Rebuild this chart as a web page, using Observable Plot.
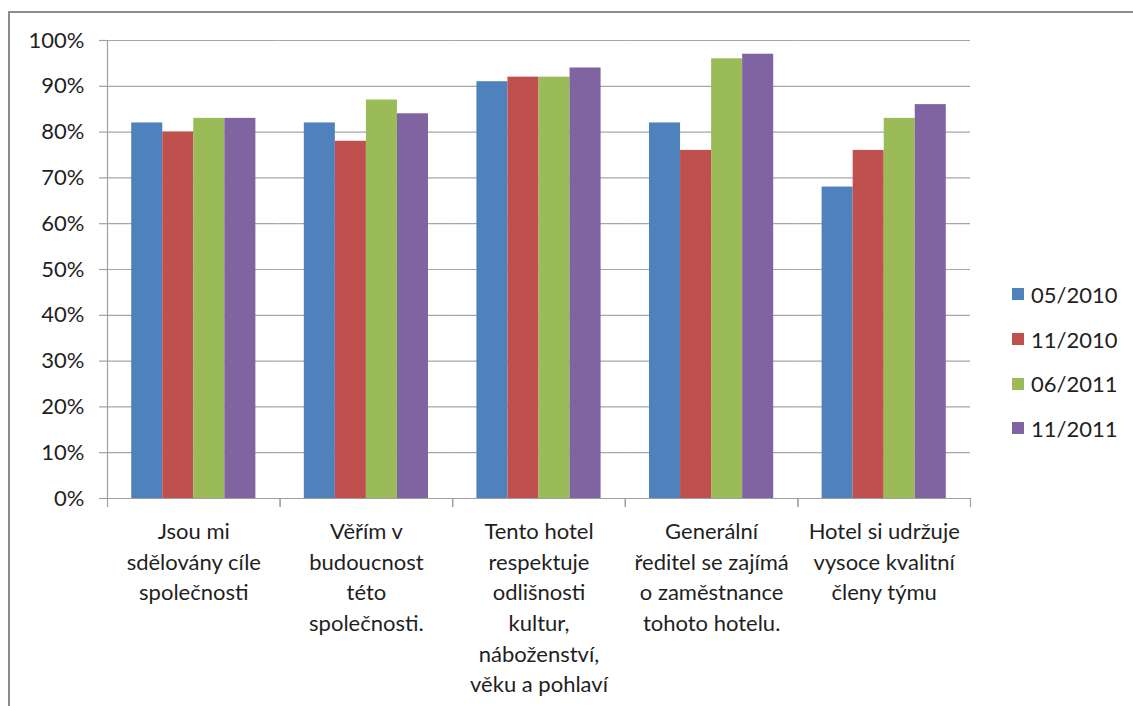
<!DOCTYPE html>
<html>
<head>
<meta charset="utf-8">
<script src="https://cdn.jsdelivr.net/npm/d3@7"></script>
<script src="https://cdn.jsdelivr.net/npm/@observablehq/plot@0.6"></script>
<style>
  html, body { margin: 0; padding: 0; background: #fff; }
  #wrap { position: relative; width: 1133px; height: 706px; overflow: hidden; font-family: Lato, "Open Sans", sans-serif; }
  #border { position: absolute; left: 8px; top: 11px; right: -10px; bottom: -10px; border-top: 2px solid #8c8c8c; border-left: 2px solid #8c8c8c; }
  #chart { position: absolute; left: 0; top: 0; }
  #legend { position: absolute; left: 1012px; top: 272px; font-size: 22px; color: #1f1f1f; }
  #legend .row { display: flex; align-items: center; height: 44.7px; }
  #legend .sw { width: 12px; height: 12px; margin-right: 7px; }
</style>
</head>
<body>
<div id="wrap">
  <div id="border"></div>
  <div id="chart"></div>
  <div id="legend"></div>
</div>
<script>
const categories = [
  "Jsou mi\nsdělovány cíle\nspolečnosti",
  "Věřím v\nbudoucnost\ntéto\nspolečnosti.",
  "Tento hotel\nrespektuje\nodlišnosti\nkultur,\nnáboženství,\nvěku a pohlaví",
  "Generální\nředitel se zajímá\no zaměstnance\ntohoto hotelu.",
  "Hotel si udržuje\nvysoce kvalitní\nčleny týmu"
];
const series = ["05/2010", "11/2010", "06/2011", "11/2011"];
const colors = ["#4F81BD", "#C0504D", "#9BBB59", "#8064A2"];
const v0510 = [0.82, 0.82, 0.91, 0.82, 0.68];
const v1110 = [0.80, 0.78, 0.92, 0.76, 0.76];
const v0611 = [0.83, 0.87, 0.92, 0.96, 0.83];
const v1111 = [0.83, 0.84, 0.94, 0.97, 0.86];
const yTicks = [0, 0.1, 0.2, 0.3, 0.4, 0.5, 0.6, 0.7, 0.8, 0.9, 1.0];

const valuesBySeries = [v0510, v1110, v0611, v1111];
const rows = [];
categories.forEach((c, i) => {
  series.forEach((s, j) => rows.push({category: c, series: s, value: valuesBySeries[j][i]}));
});

const axisColor = "#a0a0a0";
const W = 1133, H = 706, mL = 107, mR = 163, mT = 40, mB = 208;
const plotH = H - mT - mB;

const chart = Plot.plot({
  width: W, height: H,
  marginLeft: mL, marginRight: mR, marginTop: mT, marginBottom: mB,
  style: {fontFamily: "Lato, 'Open Sans', sans-serif", fontSize: "22px", color: "#1f1f1f", background: "transparent"},
  fx: {domain: categories, padding: 0, round: false, label: null},
  x: {domain: series, paddingInner: 0, paddingOuter: 0.78, round: false, axis: null},
  y: {domain: [0, 1], label: null},
  color: {domain: series, range: colors},
  marks: [
    Plot.gridY(yTicks, {stroke: "#a6a6a6", strokeOpacity: 1, strokeWidth: 1.2}),
    Plot.barY(rows, {fx: "category", x: "series", y: "value", fill: "series"}),
    Plot.frame({anchor: "left", facetAnchor: "left", stroke: axisColor, strokeWidth: 1.2}),
    Plot.frame({anchor: "bottom", stroke: axisColor, strokeWidth: 1.2}),
    Plot.frame({anchor: "left", insetTop: plotH, insetBottom: -8, stroke: axisColor, strokeWidth: 1.2}),
    Plot.frame({anchor: "right", insetTop: plotH, insetBottom: -8, stroke: axisColor, strokeWidth: 1.2}),
    Plot.axisY(yTicks, {tickFormat: d3.format(".0%"), tickSize: 8, tickPadding: 15, stroke: axisColor, strokeWidth: 1.2, label: null, fontSize: 22}),
    Plot.axisFx({anchor: "bottom", tickSize: 0, tickPadding: 19, lineHeight: 1.39, label: null, fontSize: 22})
  ]
});
document.getElementById("chart").appendChild(chart);

const legend = document.getElementById("legend");
series.forEach((s, i) => {
  const row = document.createElement("div");
  row.className = "row";
  const sw = document.createElement("span");
  sw.className = "sw";
  sw.style.background = colors[i];
  const t = document.createElement("span");
  t.textContent = s;
  row.appendChild(sw); row.appendChild(t);
  legend.appendChild(row);
});
</script>
</body>
</html>
